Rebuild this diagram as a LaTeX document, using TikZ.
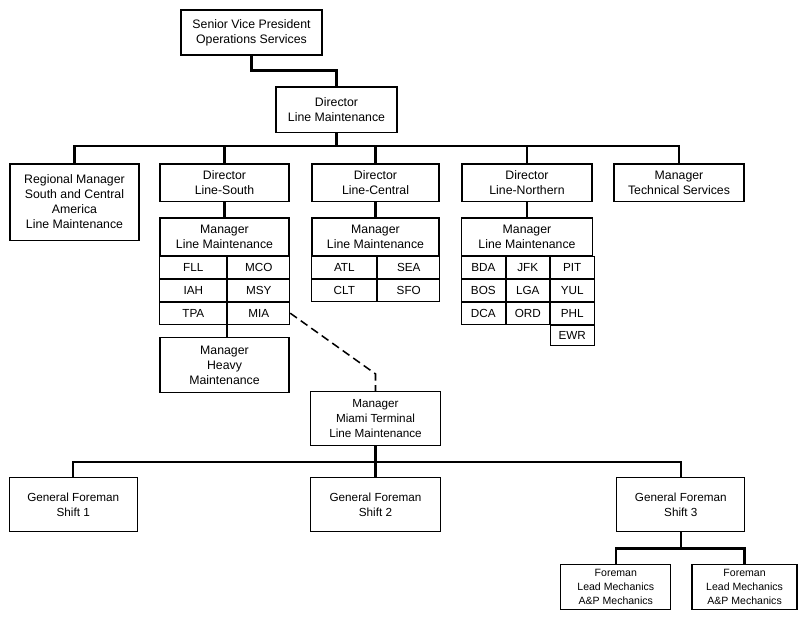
\documentclass[tikz,border=0pt]{standalone}
\usepackage{fontspec}
\setmainfont{Liberation Sans}
\usetikzlibrary{positioning}

\tikzstyle{orgbox} = [rectangle, draw=black, line width=1.1pt, align=center, inner sep=0pt, font=\fontsize{10.5}{12.8}\selectfont]
\tikzstyle{lowbox} = [orgbox, font=\fontsize{10}{12.8}\selectfont]
\tikzstyle{station} = [rectangle, draw=black, line width=0.8pt, minimum height=0.66cm, inner sep=0pt, font=\fontsize{10}{12}\selectfont]
\tikzstyle{conn} = [line width=2pt]
\tikzstyle{dashconn} = [line width=1.3pt, dash pattern=on 7pt off 4pt]

\begin{document}
\begin{tikzpicture}[node distance = 0.96cm, auto]
	\useasboundingbox (0,0) rectangle (23.97,-18.78);
	% Place nodes
	\node [orgbox, minimum width=4.23cm, minimum height=1.35cm] (svp) at (7.545,-0.975) {Senior Vice President\\Operations Services};
	\node [orgbox, below=0.92cm of svp, xshift=2.55cm, minimum width=3.63cm, minimum height=1.36cm] (dirline) {Director\\Line Maintenance};
	\node [orgbox, below=0.91cm of dirline, xshift=-7.86cm, minimum width=3.87cm, minimum height=2.29cm] (regional) {Regional Manager\\South and Central\\America\\Line Maintenance};
	\node [orgbox, below=0.91cm of dirline, xshift=-3.36cm, minimum width=3.87cm, minimum height=1.12cm] (south) {Director\\Line-South};
	\node [orgbox, below=0.91cm of dirline, xshift=1.17cm, minimum width=3.81cm, minimum height=1.12cm] (central) {Director\\Line-Central};
	\node [orgbox, below=0.91cm of dirline, xshift=5.715cm, minimum width=3.9cm, minimum height=1.12cm] (north) {Director\\Line-Northern};
	\node [orgbox, below=0.91cm of dirline, xshift=10.275cm, minimum width=3.9cm, minimum height=1.12cm] (tech) {Manager\\Technical Services};
	% Line maintenance managers and their stations
	\node [orgbox, below=0.46cm of south, minimum width=3.87cm, minimum height=1.12cm] (mgrS) {Manager\\Line Maintenance};
	\node [station, below right=0cm and 0cm of mgrS.south west, minimum width=2.01cm] (fll) {FLL};
	\node [station, right=0cm of fll, minimum width=1.86cm] (mco) {MCO};
	\node [station, below=0cm of fll, minimum width=2.01cm] (iah) {IAH};
	\node [station, right=0cm of iah, minimum width=1.86cm] (msy) {MSY};
	\node [station, below=0cm of iah, minimum width=2.01cm] (tpa) {TPA};
	\node [station, right=0cm of tpa, minimum width=1.86cm] (mia) {MIA};
	\node [orgbox, below=0.46cm of central, minimum width=3.81cm, minimum height=1.12cm] (mgrC) {Manager\\Line Maintenance};
	\node [station, below right=0cm and 0cm of mgrC.south west, minimum width=1.95cm] (atl) {ATL};
	\node [station, right=0cm of atl, minimum width=1.86cm] (sea) {SEA};
	\node [station, below=0cm of atl, minimum width=1.95cm] (clt) {CLT};
	\node [station, right=0cm of clt, minimum width=1.86cm] (sfo) {SFO};
	\node [orgbox, below=0.46cm of north, minimum width=3.93cm, minimum height=1.12cm] (mgrN) {Manager\\Line Maintenance};
	\node [station, below right=0cm and 0cm of mgrN.south west, minimum width=1.32cm] (bda) {BDA};
	\node [station, right=0cm of bda, minimum width=1.29cm] (jfk) {JFK};
	\node [station, right=0cm of jfk, minimum width=1.32cm] (pit) {PIT};
	\node [station, below=0cm of bda, minimum width=1.32cm] (bos) {BOS};
	\node [station, right=0cm of bos, minimum width=1.29cm] (lga) {LGA};
	\node [station, right=0cm of lga, minimum width=1.32cm] (yul) {YUL};
	\node [station, below=0cm of bos, minimum width=1.32cm] (dca) {DCA};
	\node [station, right=0cm of dca, minimum width=1.29cm] (ord) {ORD};
	\node [station, right=0cm of ord, minimum width=1.32cm] (phl) {PHL};
	\node [station, below=0cm of phl, minimum width=1.32cm, minimum height=0.6cm] (ewr) {EWR};
	\node [orgbox, below=2.43cm of mgrS, minimum width=3.87cm, minimum height=1.66cm] (heavy) {Manager\\Heavy\\Maintenance};
	% Miami terminal
	\node [lowbox, below=5.67cm of central, minimum width=3.9cm, minimum height=1.62cm] (miami) {Manager\\Miami Terminal\\Line Maintenance};
	\node [lowbox, below=0.93cm of miami, minimum width=3.9cm, minimum height=1.62cm] (shift2) {General Foreman\\Shift 2};
	\node [lowbox, left=5.16cm of shift2, minimum width=3.84cm, minimum height=1.62cm] (shift1) {General Foreman\\Shift 1};
	\node [lowbox, right=5.25cm of shift2, minimum width=3.84cm, minimum height=1.62cm] (shift3) {General Foreman\\Shift 3};
	\node [lowbox, below=0.94cm of shift3, xshift=-1.95cm, minimum width=3.3cm, minimum height=1.35cm, font=\fontsize{9}{12}\selectfont] (fore1) {Foreman\\Lead Mechanics\\A\&P Mechanics};
	\node [lowbox, right=0.6cm of fore1, minimum width=3.15cm, minimum height=1.35cm, font=\fontsize{9}{12}\selectfont] (fore2) {Foreman\\Lead Mechanics\\A\&P Mechanics};
	% Draw edges
	\coordinate (bus) at ([yshift=-0.39cm]dirline.south);
	\coordinate (bus2) at ([yshift=-0.48cm]miami.south);
	\coordinate (bus3) at ([yshift=-0.48cm]shift3.south);
	\coordinate (bend) at ([yshift=0.51cm]miami.north);
	\draw [conn] (svp.south) -- ++(0,-0.45cm) -| (dirline.north);
	\draw [conn] (dirline.south) -- (bus);
	\draw [conn] (regional.north) -- (regional.north |- bus) -- (tech.north |- bus) -- (tech.north);
	\draw [conn] (south.north |- bus) -- (south.north);
	\draw [conn] (central.north |- bus) -- (central.north);
	\draw [conn] (north.north |- bus) -- (north.north);
	\draw [conn] (south) -- (mgrS);
	\draw [conn] (central) -- (mgrC);
	\draw [conn] (north) -- (mgrN);
	\draw [conn] (tpa.south east) -- (tpa.south east |- heavy.north);
	\draw [dashconn] (mia.east) -- (bend) -- (miami.north);
	\draw [conn] (miami) -- (shift2);
	\draw [conn] (shift1.north) -- (shift1.north |- bus2) -- (shift3.north |- bus2) -- (shift3.north);
	\draw [conn] (shift3.south) -- (bus3);
	\draw [conn] (fore1.north) -- (fore1.north |- bus3) -- (fore2.north |- bus3) -- (fore2.north);
\end{tikzpicture}
\end{document}
